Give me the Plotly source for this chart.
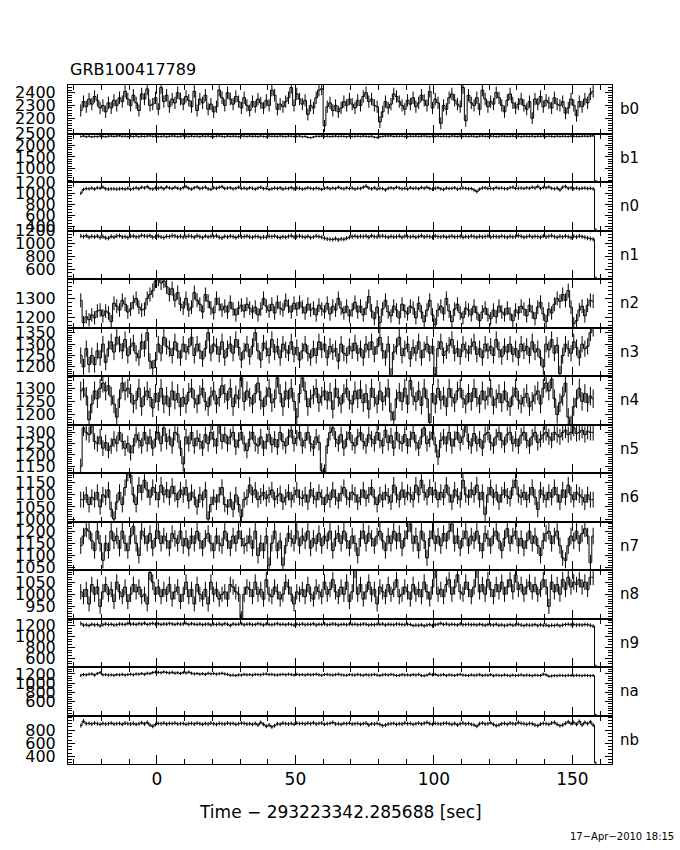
import numpy as np
import plotly.graph_objects as go
from plotly.subplots import make_subplots

# ---------------- data ----------------
t_start = -28  # first bin start (s), 1-s bins
detectors = ["b0", "b1", "n0", "n1", "n2", "n3", "n4", "n5", "n6", "n7", "n8", "n9", "na", "nb"]

b0 = [2260,2330,2290,2350,2310,2370,2340,2280,2300,2250,2320,2280,2340,2300,2360,2330,2410,2350,2300,2380,
      2320,2260,2390,2350,2430,2300,2310,2360,2270,2440,2330,2380,2290,2350,2320,2400,2350,2310,2370,2340,
      2290,2410,2260,2350,2320,2380,2270,2310,2250,2290,2420,2360,2300,2400,2350,2310,2370,2330,2280,2360,
      2300,2260,2330,2290,2350,2320,2280,2340,2300,2420,2380,2270,2310,2290,2330,2360,2440,2300,2390,2350,
      2310,2340,2230,2300,2280,2360,2420,2430,2140,2290,2320,2260,2300,2250,2280,2330,2300,2350,2310,2280,
      2340,2300,2370,2400,2330,2350,2300,2290,2170,2250,2330,2280,2310,2390,2370,2330,2300,2270,2340,2310,
      2360,2290,2320,2380,2340,2300,2410,2280,2350,2320,2160,2300,2270,2360,2390,2340,2310,2290,2440,2180,
      2380,2320,2300,2360,2270,2420,2350,2290,2330,2310,2400,2360,2300,2250,2340,2390,2320,2280,2310,2350,
      2300,2270,2330,2200,2350,2310,2370,2290,2340,2320,2280,2360,2310,2300,2330,2240,2280,2350,2300,2220,
      2330,2290,2350,2320,2390,2410]

b1 = [2380,2400,2370,2390,2360,2380,2375,2395,2385,2370,2390,2400,2380,2395,2410,2385,2390,2375,2395,2380,
      2400,2370,2390,2380,2395,2405,2385,2390,2375,2380,2395,2370,2385,2400,2390,2375,2385,2405,2390,2380,
      2395,2380,2390,2370,2400,2385,2395,2380,2375,2390,2400,2385,2370,2395,2380,2390,2385,2375,2400,2390,
      2380,2395,2385,2390,2375,2400,2380,2370,2395,2385,2390,2380,2400,2385,2375,2395,2390,2380,2385,2395,
      2370,2385,2345,2330,2360,2390,2385,2395,2380,2390,2375,2385,2395,2380,2390,2385,2370,2395,2380,2385,
      2390,2380,2395,2385,2375,2390,2350,2340,2370,2385,2400,2395,2405,2380,2390,2385,2395,2380,2375,2390,
      2385,2395,2380,2390,2400,2385,2375,2390,2385,2395,2380,2390,2385,2375,2400,2390,2380,2395,2385,2390,
      2380,2395,2385,2370,2390,2400,2385,2380,2395,2390,2375,2385,2400,2390,2380,2385,2395,2380,2390,2375,
      2390,2385,2380,2395,2375,2390,2385,2400,2380,2390,2385,2375,2395,2380,2390,2385,2380,2395,2390,2385,
      2380,2390,2395,2385,2400,2410, 480]

n0 = [1000,1070,1085,1080,1095,1075,1100,1090,1110,1080,1075,1080,1080,1075,1080,1085,1075,1090,1070,1085,
      1100,1080,1110,1095,1120,1085,1075,1100,1090,1105,1080,1115,1095,1085,1110,1090,1080,1100,1120,1090,
      1075,1100,1115,1085,1095,1110,1080,1070,1100,1090,1105,1120,1085,1095,1100,1080,1090,1110,1085,1095,
      1080,1100,1090,1075,1095,1110,1085,1090,1070,1080,1095,1085,1100,1075,1090,1085,1105,1080,1095,1090,
      1075,1085,1100,1090,1080,1095,1085,1070,1090,1100,1080,1095,1085,1110,1090,1080,1100,1085,1095,1075,
      1090,1085,1110,1130,1095,1080,1100,1075,1090,1085,1060,1090,1100,1085,1110,1095,1080,1090,1075,1100,
      1085,1095,1080,1105,1090,1110,1085,1075,1090,1100,1080,1070,1095,1085,1090,1100,1075,1085,1095,1090,
      1080,1085,1060,1030,1075,1095,1100,1085,1090,1080,1105,1090,1095,1085,1080,1100,1110,1085,1090,1095,
      1085,1100,1090,1110,1095,1125,1085,1105,1100,1115,1090,1080,1095,1060,1110,1125,1090,1100,1085,1095,
      1080,1090,1095,1085,1090,1080, 340]

n1 = [1120,1110,1125,1100,1115,1105,1120,1095,1110,1090,1085,1115,1100,1120,1125,1105,1110,1095,1115,1120,
      1105,1110,1130,1120,1115,1125,1100,1110,1120,1105,1095,1115,1110,1125,1120,1105,1115,1100,1110,1120,
      1115,1100,1125,1110,1095,1120,1105,1115,1110,1125,1100,1090,1115,1105,1120,1110,1095,1115,1105,1110,
      1120,1105,1100,1115,1110,1095,1105,1100,1115,1110,1120,1105,1095,1110,1100,1115,1125,1105,1110,1120,
      1110,1100,1115,1095,1105,1120,1110,1100,1085,1075,1070,1065,1080,1060,1075,1070,1085,1100,1110,1120,
      1105,1115,1110,1120,1100,1125,1110,1105,1115,1120,1110,1100,1115,1105,1110,1120,1100,1115,1110,1105,
      1115,1100,1110,1125,1105,1115,1110,1100,1120,1110,1105,1115,1100,1110,1120,1105,1110,1115,1100,1110,
      1105,1120,1110,1100,1115,1105,1110,1120,1100,1115,1110,1105,1120,1110,1100,1115,1105,1110,1125,1115,
      1100,1110,1120,1105,1115,1110,1100,1120,1105,1115,1125,1110,1100,1115,1105,1120,1110,1095,1115,1105,
      1120,1110,1100,1090,1080,1070, 470]

n2 = [1290,1175,1205,1190,1215,1200,1235,1240,1210,1235,1225,1180,1275,1260,1240,1290,1270,1230,1245,1280,
      1300,1255,1240,1245,1300,1320,1340,1390,1400,1380,1390,1360,1320,1350,1290,1330,1270,1250,1300,1240,
      1255,1330,1290,1270,1230,1320,1285,1250,1225,1300,1270,1240,1260,1230,1280,1245,1215,1250,1265,1235,
      1270,1250,1230,1255,1215,1245,1300,1260,1235,1270,1225,1280,1250,1240,1290,1260,1230,1275,1245,1280,
      1255,1225,1270,1240,1250,1215,1265,1245,1230,1275,1220,1260,1240,1300,1250,1225,1260,1210,1240,1280,
      1230,1260,1215,1250,1310,1235,1195,1255,1175,1245,1290,1230,1210,1260,1240,1200,1270,1235,1220,1260,
      1250,1200,1275,1230,1180,1240,1290,1215,1165,1240,1260,1220,1300,1235,1180,1245,1270,1225,1200,1250,
      1240,1215,1260,1225,1185,1230,1250,1215,1195,1240,1205,1260,1230,1215,1250,1220,1185,1240,1225,1260,
      1245,1210,1265,1230,1195,1255,1280,1220,1180,1245,1225,1270,1300,1285,1320,1290,1340,1255,1170,1185,
      1240,1260,1210,1265,1290,1285]

n3 = [1250,1200,1280,1210,1250,1210,1270,1240,1300,1220,1280,1310,1265,1330,1300,1270,1320,1250,1290,1305,
      1260,1240,1310,1280,1350,1225,1195,1230,1300,1260,1330,1290,1280,1250,1310,1270,1240,1300,1265,1290,
      1330,1250,1300,1270,1235,1280,1350,1260,1300,1290,1255,1310,1240,1280,1300,1260,1320,1285,1230,1270,
      1300,1245,1290,1350,1270,1230,1305,1280,1250,1320,1265,1290,1240,1300,1275,1260,1310,1255,1285,1230,
      1270,1300,1260,1240,1280,1250,1310,1275,1300,1240,1290,1265,1280,1225,1300,1260,1250,1290,1270,1305,
      1260,1280,1240,1300,1275,1310,1255,1290,1330,1270,1240,1300,1160,1265,1290,1330,1250,1280,1300,1235,
      1285,1260,1310,1240,1275,1300,1260,1290,1165,1280,1310,1250,1270,1295,1320,1260,1280,1245,1300,1275,
      1260,1290,1310,1255,1280,1240,1300,1270,1290,1250,1320,1275,1245,1290,1265,1300,1255,1280,1240,1300,
      1270,1290,1250,1310,1265,1280,1240,1200,1300,1275,1320,1260,1295,1170,1250,1300,1280,1260,1310,1285,
      1240,1300,1280,1290,1350,1370]

n4 = [1290,1300,1270,1180,1240,1290,1260,1300,1320,1290,1310,1270,1240,1190,1260,1320,1290,1300,1280,1240,
      1255,1300,1230,1270,1290,1265,1225,1280,1250,1300,1240,1270,1230,1290,1255,1280,1230,1265,1240,1285,
      1300,1260,1240,1275,1300,1250,1230,1270,1290,1240,1265,1310,1280,1255,1300,1230,1275,1260,1340,1250,
      1290,1265,1240,1280,1320,1255,1230,1270,1300,1245,1260,1340,1280,1230,1290,1260,1300,1250,1190,1280,
      1340,1290,1230,1260,1275,1300,1245,1270,1290,1255,1285,1220,1300,1265,1240,1280,1300,1255,1240,1290,
      1260,1295,1245,1280,1220,1300,1265,1240,1290,1250,1270,1300,1210,1180,1260,1285,1250,1300,1240,1330,
      1270,1250,1290,1235,1300,1260,1170,1280,1240,1300,1255,1270,1230,1300,1265,1245,1290,1300,1260,1240,
      1280,1250,1300,1265,1240,1290,1255,1270,1300,1235,1260,1280,1245,1290,1250,1230,1270,1300,1255,1240,
      1265,1280,1230,1250,1275,1290,1240,1300,1320,1290,1335,1260,1200,1245,1270,1320,1190,1162,1230,1260,
      1300,1250,1280,1245,1270,1260]

n5 = [1150,1320,1300,1290,1330,1260,1250,1280,1230,1255,1220,1240,1270,1250,1300,1260,1230,1250,1210,1240,
      1290,1265,1240,1300,1250,1280,1230,1270,1300,1250,1320,1260,1280,1240,1300,1290,1230,1160,1280,1250,
      1300,1240,1275,1260,1230,1290,1250,1300,1270,1240,1330,1260,1290,1250,1280,1300,1235,1265,1300,1250,
      1220,1270,1300,1250,1240,1280,1230,1260,1290,1245,1270,1235,1300,1260,1240,1280,1310,1250,1275,1300,
      1240,1265,1300,1250,1230,1280,1255,1130,1125,1240,1300,1320,1270,1250,1290,1230,1270,1300,1255,1240,
      1280,1300,1260,1240,1290,1270,1250,1300,1265,1240,1310,1255,1285,1230,1300,1260,1250,1290,1240,1270,
      1300,1255,1230,1280,1320,1250,1270,1300,1245,1190,1265,1280,1250,1300,1240,1270,1300,1255,1280,1335,
      1260,1240,1295,1250,1270,1230,1290,1300,1255,1240,1280,1300,1265,1245,1290,1300,1250,1270,1240,1285,
      1300,1265,1240,1280,1300,1255,1270,1290,1300,1280,1265,1300,1290,1280,1300,1310,1290,1300,1320,1295,
      1300,1310,1290,1305,1300,1300]

n6 = [1080,1080,1100,1060,1090,1080,1110,1050,1100,1090,1120,1040,1000,1070,1110,1060,1130,1190,1180,1100,
      1060,1140,1110,1160,1120,1090,1130,1110,1080,1140,1100,1120,1090,1135,1105,1080,1120,1100,1130,1075,
      1110,1090,1050,1100,1080,1120,1000,1060,1090,1070,1100,1130,1060,1050,1080,1040,1100,1060,1010,1080,
      1090,1140,1100,1120,1080,1095,1110,1085,1100,1120,1080,1095,1105,1070,1090,1110,1080,1100,1120,1090,
      1085,1100,1070,1120,1095,1080,1110,1090,1060,1100,1080,1120,1090,1075,1105,1130,1090,1080,1110,1100,
      1070,1090,1120,1085,1100,1130,1090,1060,1100,1080,1110,1095,1070,1140,1100,1080,1120,1090,1110,1100,
      1080,1140,1100,1160,1110,1090,1130,1100,1120,1080,1110,1090,1140,1100,1070,1120,1095,1080,1160,1100,
      1090,1120,1100,1140,1080,1110,1020,1100,1130,1090,1110,1070,1100,1120,1095,1085,1130,1160,1100,1090,
      1110,1080,1100,1130,1090,1040,1120,1100,1080,1110,1090,1130,1100,1070,1120,1090,1140,1100,1080,1110,
      1100,1090,1070,1100,1080,1080]

n7 = [1140,1180,1210,1200,1160,1120,1200,1150,1080,1150,1120,1200,1160,1180,1130,1200,1150,1120,1180,1220,
      1150,1100,1200,1180,1150,1190,1130,1170,1200,1150,1180,1160,1130,1190,1170,1150,1200,1140,1170,1130,
      1180,1150,1200,1160,1130,1170,1190,1150,1120,1180,1150,1140,1200,1160,1130,1180,1150,1200,1170,1140,
      1150,1180,1130,1200,1100,1150,1120,1180,1060,1150,1200,1120,1160,1060,1140,1190,1170,1150,1200,1140,
      1180,1160,1200,1130,1170,1150,1190,1140,1180,1160,1200,1120,1170,1190,1150,1200,1160,1130,1180,1150,
      1100,1170,1200,1150,1190,1170,1140,1180,1200,1160,1120,1180,1150,1200,1160,1190,1130,1170,1200,1230,
      1150,1180,1120,1200,1160,1090,1170,1200,1150,1180,1140,1190,1160,1200,1230,1150,1180,1130,1170,1200,
      1140,1180,1160,1200,1150,1120,1190,1170,1140,1180,1200,1160,1120,1170,1210,1150,1180,1200,1140,1170,
      1130,1160,1200,1150,1180,1140,1100,1160,1190,1200,1150,1180,1200,1140,1090,1080,1140,1180,1160,1200,
      1150,1190,1210,1180,1070,1180]

n8 = [1010,990,1020,960,1040,1000,1030,950,1010,1040,1000,1020,970,1050,1010,990,1030,970,1000,1040,
      1010,1030,990,1000,960,1090,1050,1000,1030,990,1020,1000,1040,980,1010,1030,970,1000,1050,990,
      1020,960,1040,1000,980,1020,960,1050,1000,1020,980,1000,1010,980,1040,1030,1010,1000,900,1000,
      1030,1020,990,1050,1000,1020,980,1060,1000,990,1030,1010,980,1000,1050,1030,1000,960,1010,1000,
      1020,990,1040,1000,980,1030,1010,990,1050,1000,1020,1060,1010,990,1030,1000,1050,970,1010,1100,
      1000,1040,980,1010,1050,1000,1020,960,1030,1010,990,1040,1000,1020,1060,990,1000,1030,1010,980,
      1040,1000,1020,990,1050,1010,980,1030,1100,1000,1020,990,1040,1060,1000,1030,1080,1010,1000,1050,
      1020,990,1030,1100,1010,1040,1000,1060,1020,990,1040,1010,1050,1000,1030,1060,1010,1080,1020,1040,
      1000,1030,1050,1010,1040,1000,1020,1060,1030,950,1050,1010,1040,1000,1060,1020,1070,1030,1050,1040,
      1060,1030,1050,1020,1070,1070]

n9 = [1240,1205,1215,1200,1225,1210,1220,1195,1215,1230,1220,1225,1210,1215,1230,1225,1220,1240,1225,1230,
      1220,1235,1225,1245,1220,1230,1240,1225,1235,1220,1230,1225,1240,1230,1220,1235,1225,1230,1240,1220,
      1235,1225,1220,1230,1215,1225,1230,1210,1225,1220,1230,1215,1235,1225,1200,1230,1220,1225,1235,1215,
      1225,1230,1215,1220,1235,1225,1210,1230,1220,1215,1225,1235,1220,1225,1215,1230,1220,1210,1225,1220,
      1230,1215,1225,1220,1235,1210,1225,1220,1230,1215,1220,1230,1225,1210,1220,1225,1215,1230,1220,1225,
      1215,1220,1230,1225,1210,1220,1215,1225,1220,1230,1210,1225,1220,1215,1230,1225,1220,1215,1225,1220,
      1200,1210,1205,1215,1195,1210,1220,1200,1215,1225,1240,1220,1230,1215,1225,1220,1210,1230,1215,1220,
      1225,1215,1220,1210,1225,1215,1205,1220,1215,1210,1225,1205,1215,1200,1210,1220,1205,1215,1225,1210,
      1200,1215,1205,1210,1220,1200,1215,1205,1210,1195,1205,1200,1215,1195,1210,1220,1225,1215,1220,1210,
      1215,1210,1220,1215,1205,1190, 460]

na = [1170,1185,1180,1195,1200,1175,1210,1230,1180,1185,1175,1180,1170,1185,1180,1190,1175,1185,1195,1180,
      1200,1195,1210,1190,1215,1205,1230,1240,1235,1225,1245,1230,1220,1235,1215,1225,1210,1230,1220,1240,
      1215,1200,1210,1195,1205,1190,1215,1200,1210,1195,1205,1215,1200,1190,1170,1175,1165,1180,1175,1190,
      1180,1185,1175,1190,1185,1180,1195,1200,1185,1190,1180,1175,1185,1190,1180,1195,1185,1175,1190,1180,
      1185,1175,1190,1180,1185,1195,1180,1170,1185,1190,1180,1175,1185,1195,1180,1175,1170,1185,1180,1175,
      1190,1180,1170,1185,1175,1180,1190,1175,1165,1180,1185,1175,1190,1180,1165,1170,1185,1175,1180,1170,
      1185,1175,1190,1165,1160,1175,1200,1180,1190,1170,1175,1185,1165,1180,1175,1165,1180,1190,1175,1170,
      1165,1180,1170,1175,1185,1165,1175,1170,1185,1160,1175,1170,1165,1180,1170,1160,1175,1165,1170,1180,
      1165,1175,1170,1160,1175,1170,1165,1195,1180,1150,1155,1165,1160,1170,1165,1160,1170,1165,1160,1170,
      1165,1160,1170,1165,1160,1165, 320]

nb = [870,940,900,905,895,910,900,890,905,895,900,910,895,900,905,890,910,900,895,905,
      890,900,915,895,920,880,860,890,905,900,910,895,905,900,910,895,900,905,890,900,
      905,895,910,900,890,905,895,910,900,890,905,900,895,910,900,905,890,900,910,905,
      895,900,890,905,880,920,890,860,880,850,870,900,890,910,900,895,905,890,910,900,
      905,895,910,900,915,895,905,910,890,900,905,920,895,900,890,905,900,910,895,900,
      905,890,900,910,880,900,895,905,890,870,880,895,900,905,890,900,895,910,900,905,
      890,900,910,895,905,920,900,890,905,900,895,905,910,900,890,905,880,900,910,895,
      905,890,880,860,900,910,895,900,915,890,870,880,900,905,890,910,900,895,920,905,
      900,890,905,900,880,870,895,905,900,890,910,920,890,870,880,905,930,900,920,890,
      935,880,920,900,930,880, 300]

series = [b0, b1, n0, n1, n2, n3, n4, n5, n6, n7, n8, n9, na, nb]

# y-axis ranges and tick labels per panel
y_ranges = [[2080, 2460], [420, 2510], [320, 1205], [455, 1205], [1150, 1400], [1160, 1373],
            [1162, 1347], [1120, 1335], [990, 1190], [1040, 1240], [900, 1100], [440, 1330],
            [300, 1350], [282, 1026]]
y_ticks = [[2200, 2300, 2400], [1000, 1500, 2000, 2500], [400, 600, 800, 1000, 1200],
           [600, 800, 1000, 1200], [1200, 1300], [1200, 1250, 1300, 1350], [1200, 1250, 1300],
           [1150, 1200, 1250, 1300], [1000, 1050, 1100, 1150], [1050, 1100, 1150, 1200],
           [950, 1000, 1050], [600, 800, 1000, 1200], [600, 800, 1000, 1200], [400, 600, 800]]
y_minor = [20, 100, 50, 50, 20, 10, 10, 10, 10, 10, 10, 50, 50, 50]
x_ticks = [0, 50, 100, 150]
x_range = [-32.1, 164.3]
x_title = "Time \u2212 293223342.285688 [sec]"
plot_title = "GRB100417789"
date_text = "17\u2212Apr\u22122010 18:15"

# ---------------- figure ----------------
W, H = 680, 850
ML, MR, MT, MB = 68, 68, 85, 86
PW, PH = W - ML - MR, H - MT - MB
N = len(detectors)
FONT = "DejaVu Sans"

fig = make_subplots(rows=N, cols=1, shared_xaxes=True, vertical_spacing=0)

for i, (name, vals) in enumerate(zip(detectors, series)):
    v = np.array(vals, dtype=float)
    x = t_start + 0.5 + np.arange(len(v))
    fig.add_trace(go.Scatter(
        x=x, y=v, mode="lines", line=dict(shape="hvh", color="black", width=1),
        error_y=dict(type="data", array=np.sqrt(v), thickness=1, width=0, color="black"),
        showlegend=False, hoverinfo="skip"), row=i + 1, col=1)
    fig.update_yaxes(range=y_ranges[i], tickmode="array", tickvals=y_ticks[i],
                     ticks="inside", ticklen=7, tickcolor="black", tickwidth=1,
                     minor=dict(tickmode="linear", tick0=0, dtick=y_minor[i], ticks="inside",
                                ticklen=4, tickcolor="black", tickwidth=1),
                     showline=True, linecolor="black", linewidth=1, mirror="allticks",
                     showgrid=False, zeroline=False, ticklabelstandoff=8, automargin=False,
                     tickfont=dict(family=FONT, size=16, color="black"),
                     row=i + 1, col=1)
    fig.update_xaxes(range=x_range, tickmode="array", tickvals=x_ticks,
                     ticks="inside", ticklen=9, tickcolor="black", tickwidth=1,
                     minor=dict(tickmode="linear", tick0=0, dtick=10, ticks="inside",
                                ticklen=5, tickcolor="black", tickwidth=1),
                     showline=True, linecolor="black", linewidth=1, mirror="allticks",
                     showgrid=False, zeroline=False, automargin=False,
                     showticklabels=(i == N - 1),
                     tickfont=dict(family=FONT, size=17, color="black"),
                     row=i + 1, col=1)
    # detector label at right
    yc = 1 - (i + 0.5) / N
    fig.add_annotation(text=name, xref="paper", yref="paper", x=1 + 6 / PW, y=yc,
                       xanchor="left", yanchor="middle", showarrow=False,
                       font=dict(family=FONT, size=15, color="black"))

fig.add_annotation(text=plot_title, xref="paper", yref="paper", x=0, y=1 + 16 / PH,
                   xanchor="left", yanchor="middle", showarrow=False,
                   font=dict(family=FONT, size=16, color="black"))
fig.add_annotation(text=x_title, xref="paper", yref="paper", x=(340 - ML) / PW, y=-48 / PH,
                   xanchor="center", yanchor="middle", showarrow=False,
                   font=dict(family=FONT, size=17, color="black"))
fig.add_annotation(text=date_text, xref="paper", yref="paper", x=(676 - ML) / PW, y=-72 / PH,
                   xanchor="right", yanchor="middle", showarrow=False,
                   font=dict(family=FONT, size=10, color="black"))

fig.update_layout(width=W, height=H, margin=dict(l=ML, r=MR, t=MT, b=MB, autoexpand=False),
                  paper_bgcolor="white", plot_bgcolor="white", showlegend=False)

fig.write_html("out.html", config={"displayModeBar": False},
               post_script="document.body.style.margin='0px';document.body.style.padding='0px';")
